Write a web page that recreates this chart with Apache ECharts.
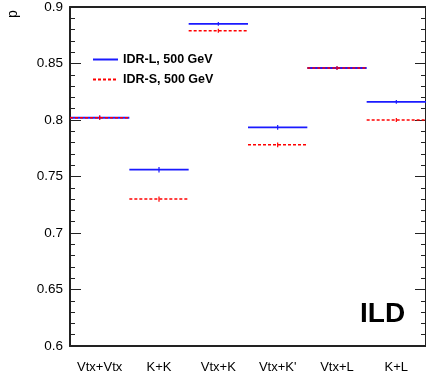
<!DOCTYPE html>
<html><head><meta charset="utf-8">
<script src="https://cdn.jsdelivr.net/npm/echarts@6/dist/echarts.min.js"></script>
<style>html,body{margin:0;padding:0;background:#fff}#c{width:426px;height:379px}</style>
</head><body><div id="c"></div>
<script>
var categories = ['Vtx+Vtx','K+K','Vtx+K','Vtx+K\'','Vtx+L','K+L'];
var seriesNames = ['IDR-L, 500 GeV','IDR-S, 500 GeV'];
var valuesL = [0.802, 0.756, 0.885, 0.7935, 0.846, 0.816];
var errorsL = [0.001, 0.0015, 0.0008, 0.0012, 0.0006, 0.0008];
var valuesS = [0.802, 0.730, 0.879, 0.778, 0.846, 0.800];
var errorsS = [0.001, 0.0015, 0.0008, 0.0012, 0.0006, 0.0008];
var yTicks = {min: 0.6, max: 0.9, interval: 0.05};

function makeData(vals, errs){ return vals.map(function(v,i){ return [i, v, errs[i]]; }); }
function renderer(color, width, dash){
  return function(params, api){
    var i = api.value(0), v = api.value(1), e = api.value(2);
    var c = api.coord([i, v]);
    var w = api.size([1, 0])[0];
    var top = api.coord([i, v + e]), bot = api.coord([i, v - e]);
    var style = {stroke: color, lineWidth: width, lineDash: dash};
    return {type:'group', children:[
      {type:'line', shape:{x1:c[0]-w/2, y1:c[1], x2:c[0]+w/2, y2:c[1]}, style: style},
      {type:'line', shape:{x1:c[0], y1:top[1]-1, x2:c[0], y2:bot[1]+1}, style:{stroke: color, lineWidth: 1.2}}
    ]};
  };
}
var chart = echarts.init(document.getElementById('c'), null, {renderer:'canvas'});
var font = 'Liberation Sans, Arial, Helvetica, sans-serif';
chart.setOption({
  animation: false,
  textStyle: {fontFamily: font},
  grid: {left: 70, top: 6, width: 359, height: 340},
  legend: {
    left: 87, top: 48, orient: 'vertical', itemGap: 7, itemWidth: 25, itemHeight: 10,
    data: seriesNames,
    itemStyle: {opacity: 0},
    textStyle: {fontFamily: font, fontWeight: 'bold', fontSize: 12.5, color: '#000'}
  },
  xAxis: [{
    type: 'category', data: categories, position: 'bottom', boundaryGap: true,
    axisLine: {lineStyle: {color: '#222', width: 2}},
    axisTick: {inside: true, length: 10, lineStyle: {color: '#333', width: 1}},
    axisLabel: {color: '#000', fontSize: 13, margin: 15, fontFamily: font, interval: 0},
    splitLine: {show: false}
  },{
    type: 'category', data: categories, position: 'top', boundaryGap: true,
    axisLine: {lineStyle: {color: '#222', width: 2}},
    axisTick: {inside: true, length: 10, lineStyle: {color: '#333', width: 1}},
    axisLabel: {show: false}, splitLine: {show: false}
  }],
  yAxis: [{
    type: 'value', min: yTicks.min, max: yTicks.max, interval: yTicks.interval, position: 'left',
    axisLine: {show: true, lineStyle: {color: '#222', width: 2}},
    axisTick: {show: true, inside: true, length: 11, lineStyle: {color: '#222', width: 1}},
    minorTick: {show: true, splitNumber: 5, length: 5, lineStyle: {color: '#222', width: 1}},
    axisLabel: {color: '#000', fontSize: 13.5, margin: 7, fontFamily: font},
    splitLine: {show: false}
  },{
    type: 'value', min: yTicks.min, max: yTicks.max, interval: yTicks.interval, position: 'right',
    axisLine: {show: true, lineStyle: {color: '#222', width: 2}},
    axisTick: {show: true, inside: true, length: 11, lineStyle: {color: '#222', width: 1}},
    minorTick: {show: true, splitNumber: 5, length: 5, lineStyle: {color: '#222', width: 1}},
    axisLabel: {show: false}, splitLine: {show: false}
  }],
  series: [
    {type:'custom', name:'L-bins', renderItem: renderer('#1a1aff', 1.8, null), data: makeData(valuesL, errorsL), z: 2},
    {type:'custom', name:'S-bins', renderItem: renderer('#ff0000', 1.5, [3,2]), data: makeData(valuesS, errorsS), z: 3},
    {type:'line', name: seriesNames[0], data: [], symbol:'none', itemStyle:{color:'#1a1aff'}, lineStyle:{color:'#1a1aff', width:2}},
    {type:'line', name: seriesNames[1], data: [], symbol:'none', itemStyle:{color:'#ff0000'}, lineStyle:{color:'#ff0000', width:1.5, type:[3,2]}}
  ],
  graphic: [
    {type:'text', x: 6, y: 18, rotation: Math.PI/2, style:{text:'p', font:'14px ' + font, fill:'#000'}},
    {type:'text', left: 360, top: 300, style:{text:'ILD', font:'bold 28px ' + font, fill:'#000'}}
  ]
});
</script></body></html>
